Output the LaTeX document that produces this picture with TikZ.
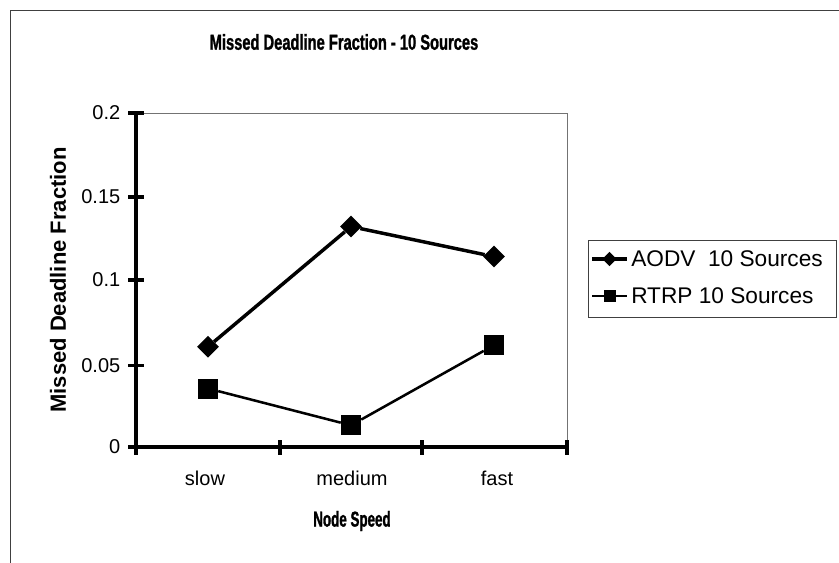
\documentclass[tikz,border=0pt]{standalone}
\usepackage{fontspec}
\setmainfont{Liberation Sans}
\newfontfamily\headfont[FakeStretch=0.68,FakeBold=1.2]{Liberation Sans}
\newfontfamily\xlabfont[FakeStretch=0.62,FakeBold=1.2]{Liberation Sans}
\usetikzlibrary{shapes.geometric,positioning}
\tikzset{
  axisline/.style={line width=2.8pt,black},
  frameline/.style={line width=0.7pt,black!75},
  plotedge/.style={line width=0.7pt,black!55},
  aodvline/.style={line width=2.6pt,black},
  rtrpline/.style={line width=1.9pt,black},
  dmark/.style={diamond,fill=black,inner sep=0pt,minimum size=#1},
  dmark/.default=16.5pt,
  smark/.style={rectangle,fill=black,inner sep=0pt,minimum size=#1},
  smark/.default=15pt,
  ticklab/.style={font=\fontsize{15}{18}\selectfont},
  leglab/.style={font=\fontsize{17}{20}\selectfont,anchor=west,inner sep=0pt},
}

\begin{document}
\begin{tikzpicture}[x=0.75pt,y=-0.75pt]

  \useasboundingbox (0,0) rectangle (839,563);

  % outer chart frame
  \draw[frameline] (10,563) -- (10,10) -- (839,10);

  % plot area
  \coordinate (org) at (136,447);
  \coordinate (ytop) at (136,113);
  \coordinate (xend) at (567,447);
  \draw[plotedge] (ytop) -- (567,113) -- (xend);
  \draw[axisline] (ytop) -- (org) -- (xend);

  \foreach \y/\lab in {447/0,365.5/0.05,280/0.1,197/0.15,113/0.2}{
    \draw[axisline] (128,\y) -- (144,\y);
    \node[ticklab,anchor=east] (yl\lab) at (125,\y) {\lab};
  }
  \foreach \x in {136,280,422,567}{
    \draw[axisline] (\x,440) -- (\x,455);
  }
  \foreach \x/\lab in {205/slow,352/medium,497/fast}{
    \node[ticklab] (xl\lab) at (\x,478) {\lab};
  }

  % data
  \node[dmark] (a1) at (208,346.8) {};
  \node[dmark] (a2) at (351,226.6) {};
  \node[dmark] (a3) at (494,256.6) {};
  \node[smark] (r1) at (208,388.5) {};
  \node[smark] (r2) at (351,425.3) {};
  \node[smark] (r3) at (494,345.1) {};
  \draw[aodvline] (a1) -- (a2) -- (a3);
  \draw[rtrpline] (r1) -- (r2) -- (r3);

  % labels
  \node[font=\headfont\bfseries\fontsize{16.2}{19}\selectfont] (title) at (344,42)
    {Missed Deadline Fraction - 10 Sources};
  \node[font=\bfseries\fontsize{16.5}{19}\selectfont,rotate=90] (ylab) at (58,280)
    {Missed Deadline Fraction};
  \node[font=\xlabfont\bfseries\fontsize{16.2}{19}\selectfont] (xlab) at (352,521)
    {Node Speed};

  % legend
  \draw[frameline] (588,240) rectangle (836,317);
  \coordinate (la0) at (592,259);
  \coordinate (la1) at (627,259);
  \coordinate (lr0) at (592,296);
  \coordinate (lr1) at (627,296);
  \draw[aodvline] (la0) -- (la1);
  \draw[rtrpline] (lr0) -- (lr1);
  \node[dmark=11pt] (lam) at (609.5,259) {};
  \node[smark=9pt] (lrm) at (609.5,296) {};
  \node[leglab] (laodv) at (631,259) {AODV\ \ 10 Sources};
  \node[leglab] (lrtrp) at (631,296) {RTRP 10 Sources};

\end{tikzpicture}
\end{document}
